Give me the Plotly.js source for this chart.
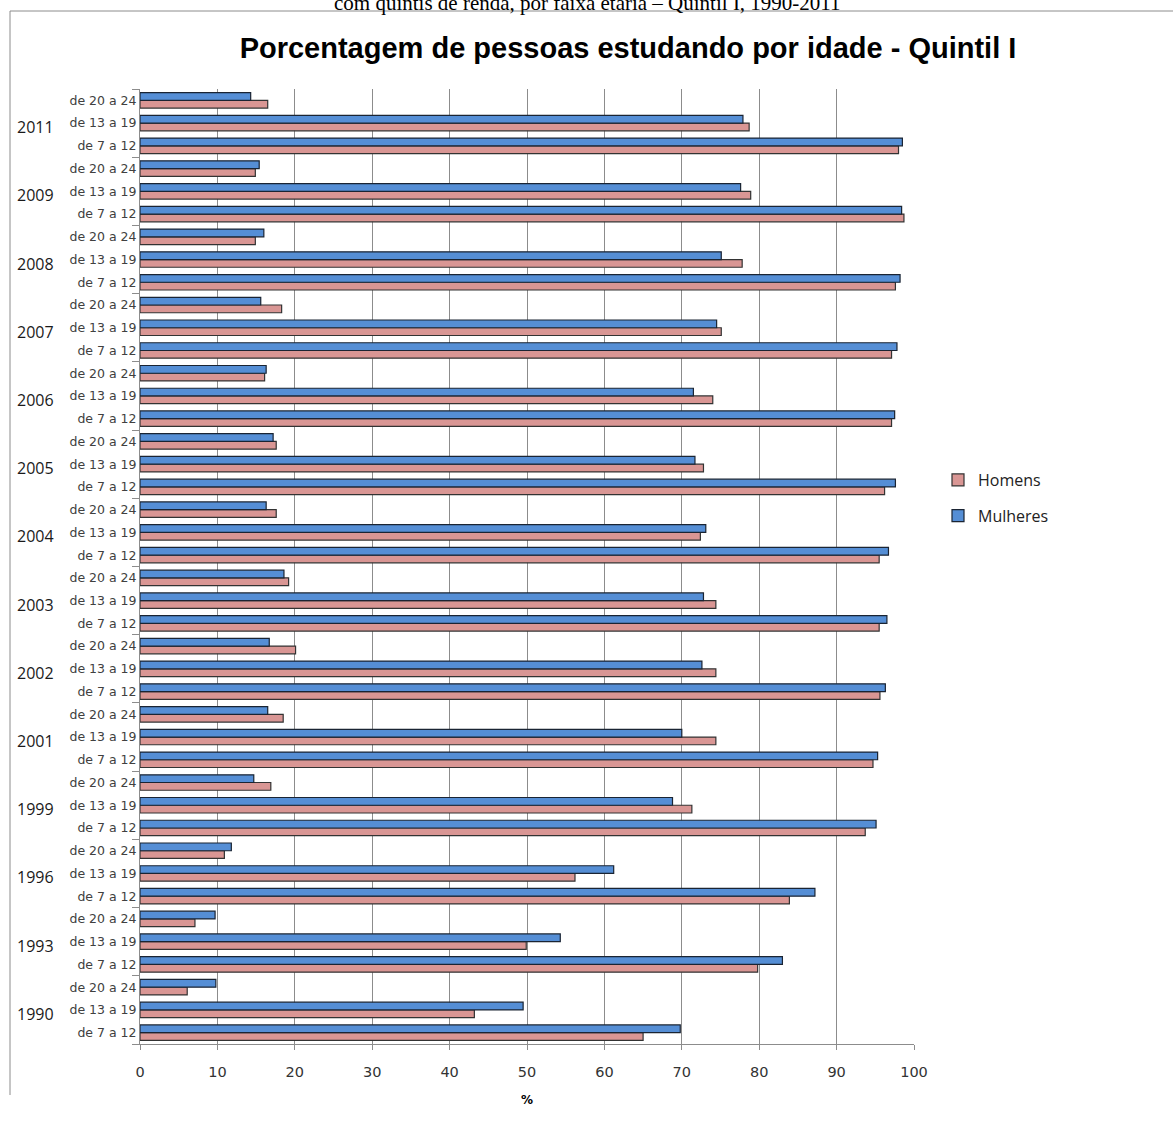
<!DOCTYPE html>
<html>
<head>
<meta charset="utf-8">
<script src="https://cdn.plot.ly/plotly-3.0.1.min.js"></script>
<style>html,body{margin:0;padding:0;background:#fff;}#chart{width:1173px;height:1124px;}</style>
</head>
<body>
<div id="chart"></div>
<script>
// Years (bottom to top) and age groups (bottom to top within a year)
const years = ['1990','1993','1996','1999','2001','2002','2003','2004','2005','2006','2007','2008','2009','2011'];
const ages = ['de 7 a 12','de 13 a 19','de 20 a 24'];

// Homens (%), one array per age group, in the order of `years`
const homens_7a12  = [65.0, 79.8, 83.9, 93.7, 94.7, 95.6, 95.5, 95.5, 96.2, 97.1, 97.1, 97.6, 98.7, 98.0];
const homens_13a19 = [43.2, 49.9, 56.2, 71.3, 74.4, 74.4, 74.4, 72.4, 72.8, 74.0, 75.1, 77.8, 78.9, 78.7];
const homens_20a24 = [ 6.1,  7.1, 10.9, 16.9, 18.5, 20.1, 19.2, 17.6, 17.6, 16.1, 18.3, 14.9, 14.9, 16.5];

// Mulheres (%)
const mulheres_7a12  = [69.8, 83.0, 87.2, 95.1, 95.3, 96.3, 96.5, 96.7, 97.6, 97.5, 97.8, 98.2, 98.4, 98.5];
const mulheres_13a19 = [49.5, 54.3, 61.2, 68.8, 70.0, 72.6, 72.8, 73.1, 71.7, 71.5, 74.5, 75.1, 77.6, 77.9];
const mulheres_20a24 = [ 9.8,  9.7, 11.8, 14.7, 16.5, 16.7, 18.6, 16.3, 17.2, 16.3, 15.6, 16.0, 15.4, 14.3];

const xTicks = [0,10,20,30,40,50,60,70,80,90,100];

// Build category slots: slot index = year index * nAges + age index
const nA = ages.length;
const slot = [], innerText = [], hVals = [], mVals = [];
const hByAge = [homens_7a12, homens_13a19, homens_20a24];
const mByAge = [mulheres_7a12, mulheres_13a19, mulheres_20a24];
years.forEach((yr, i) => {
  ages.forEach((ag, j) => {
    slot.push(i * nA + j); innerText.push(ag);
    hVals.push(hByAge[j][i]); mVals.push(mByAge[j][i]);
  });
});
const yearCenters = years.map((_, i) => i * nA + (nA - 1) / 2);
const groupBounds = years.map((_, i) => i * nA - 0.5).concat([years.length * nA - 0.5]);
const yRange = [-0.5, years.length * nA - 0.5];

// plot area in pixels
const L = 140, R = 914, T = 89, B = 1044, W = 1173, H = 1124;
const px = x => (x - L) / (R - L);
const py = y => (B - y) / (B - T);

const traces = [
  {type:'bar', orientation:'h', name:'Homens', legendgroup:'h',
   y:slot, x:hVals,
   marker:{color:'#D99694', line:{color:'#333333', width:1.2}}},
  {type:'bar', orientation:'h', name:'Mulheres', legendgroup:'m',
   y:slot, x:mVals,
   marker:{color:'#558ED5', line:{color:'#1a2433', width:1.2}}}
];

const yearAnnotations = years.map((yr, i) => ({
  text: yr, showarrow:false, xref:'paper', x:px(56), xanchor:'right',
  yref:'y', y:yearCenters[i], yanchor:'middle', yshift:-4,
  font:{family:'Open Sans, sans-serif', size:16, color:'#1a1a1a'}
}));

const layout = {
  width:W, height:H,
  margin:{l:L, r:W-R, t:T, b:H-B, pad:0},
  paper_bgcolor:'#fff', plot_bgcolor:'#fff',
  barmode:'group', bargap:0.32, bargroupgap:0,
  font:{family:'DejaVu Sans, sans-serif', color:'#404040'},
  title:{text:'Porcentagem de pessoas estudando por idade - Quintil I',
    font:{family:'Liberation Sans, Arial, sans-serif', size:29, color:'#000', weight:'bold'},
    xref:'paper', x:px(628), xanchor:'center', yref:'container', y:1-48/H, yanchor:'middle'},
  xaxis:{range:[0,100], tickvals:xTicks, ticks:'outside', ticklen:5, tickcolor:'#8c8c8c',
    ticklabelstandoff:10,
    showgrid:true, gridcolor:'#8c8c8c', gridwidth:1, zeroline:false,
    showline:true, linecolor:'#8c8c8c', linewidth:1, mirror:false,
    tickfont:{family:'DejaVu Sans, sans-serif', size:14.5, color:'#333'},
    title:{text:'%', font:{family:'DejaVu Sans, sans-serif', size:12, color:'#000', weight:'bold'}, standoff:16},
    fixedrange:true},
  yaxis:{range:yRange, tickmode:'array', tickvals:slot, ticktext:innerText, ticks:'',
    ticklabelstandoff:0,
    minor:{tickmode:'array', tickvals:groupBounds, ticks:'outside', ticklen:7, tickcolor:'#8c8c8c', tickwidth:1, showgrid:false},
    showline:true, linecolor:'#8c8c8c', linewidth:1, showgrid:false, zeroline:false,
    tickfont:{family:'DejaVu Sans, sans-serif', size:12.5, color:'#404040'},
    fixedrange:true},
  legend:{x:px(938), xanchor:'left', y:py(498), yanchor:'middle',
    traceorder:'grouped', tracegroupgap:12,
    font:{family:'Open Sans, sans-serif', size:16, color:'#222'}, bgcolor:'rgba(0,0,0,0)'},
  shapes:[
    {type:'line', xref:'paper', yref:'paper', x0:px(10), x1:px(10), y0:py(11), y1:py(1095), line:{color:'#8c8c8c', width:1}},
    {type:'line', xref:'paper', yref:'paper', x0:px(10), x1:px(1180), y0:py(11), y1:py(11), line:{color:'#8c8c8c', width:1}}
  ],
  annotations:[
    {text:'com quintis de renda, por faixa etária – Quintil I, 1990-2011', showarrow:false,
     xref:'paper', yref:'paper', x:px(587), xanchor:'center', y:py(17), yanchor:'bottom',
     font:{family:'Liberation Serif, Times New Roman, serif', size:21, color:'#000'}}
  ].concat(yearAnnotations)
};

Plotly.newPlot('chart', traces, layout, {displayModeBar:false, staticPlot:true});
</script>
</body>
</html>
